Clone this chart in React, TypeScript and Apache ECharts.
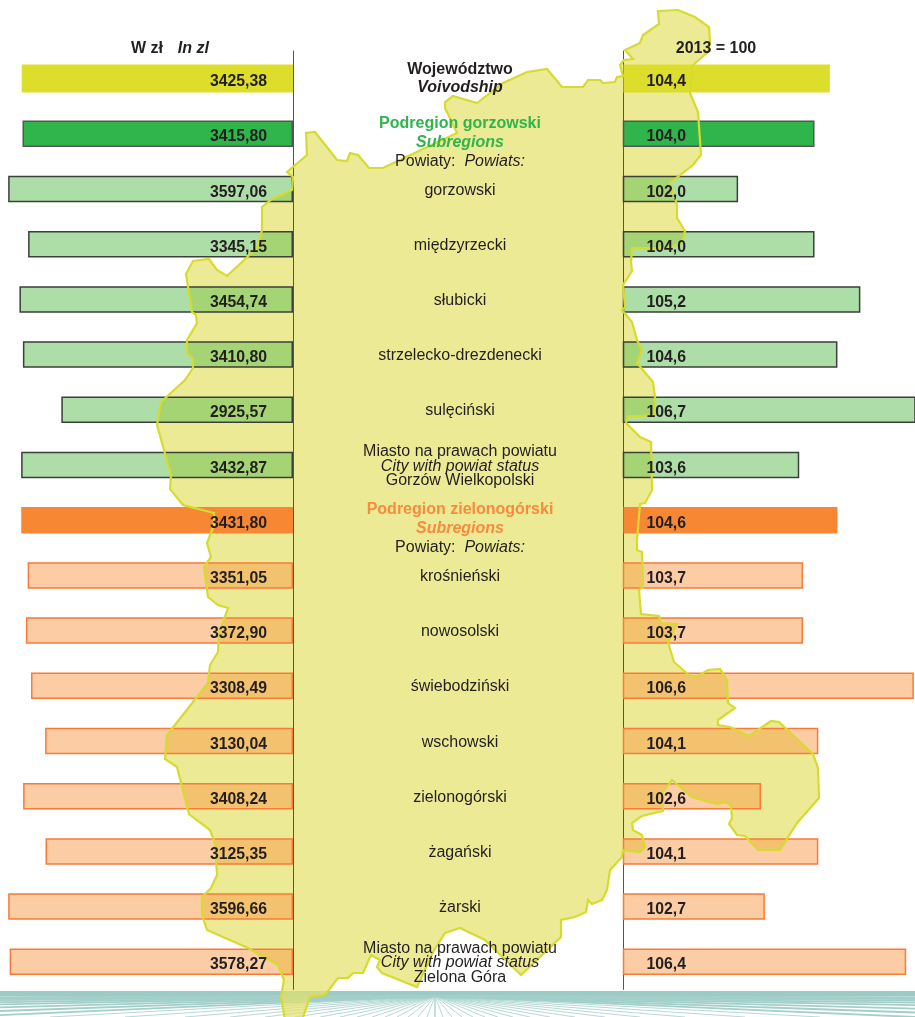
import React, { useEffect, useRef } from "react";
import * as echarts from "echarts";

const FONT = '"Liberation Sans", Arial, sans-serif';

const categories = [
  "{b|Województwo}\n{bi|Voivodship}\n{sx| }",
  "{sp| }\n{gh|Podregion gorzowski}\n{gi|Subregions}\n{h|Powiaty:  }{hi|Powiats:}",
  "{n|gorzowski}",
  "{n|międzyrzecki}",
  "{n|słubicki}",
  "{n|strzelecko-drezdenecki}",
  "{n|sulęciński}",
  "{n|Miasto na prawach powiatu}\n{i|City with powiat status}\n{n|Gorzów Wielkopolski}",
  "{sp| }\n{oh|Podregion zielonogórski}\n{oi|Subregions}\n{h|Powiaty:  }{hi|Powiats:}",
  "{n|krośnieński}",
  "{n|nowosolski}",
  "{n|świebodziński}",
  "{n|wschowski}",
  "{n|zielonogórski}",
  "{n|żagański}",
  "{n|żarski}",
  "{n|Miasto na prawach powiatu}\n{i|City with powiat status}\n{n|Zielona Góra}",
];
const wages = [3425.38, 3415.8, 3597.06, 3345.15, 3454.74, 3410.8, 2925.57, 3432.87, 3431.8, 3351.05, 3372.9, 3308.49, 3130.04, 3408.24, 3125.35, 3596.66, 3578.27];
const indices = [104.4, 104.0, 102.0, 104.0, 105.2, 104.6, 106.7, 103.6, 104.6, 103.7, 103.7, 106.6, 104.1, 102.6, 104.1, 102.7, 106.4];
const rowKinds = ["voiv", "greenHead", "green", "green", "green", "green", "green", "green", "orangeHead", "orange", "orange", "orange", "orange", "orange", "orange", "orange", "orange"];

const kindStyles: Record<string, any> = {
  voiv: { color: "#DDDD2B", borderWidth: 0 },
  greenHead: { color: "#30B44C", borderColor: "#555555", borderWidth: 1.5 },
  green: { color: "rgba(91,189,81,0.5)", borderColor: "#3C3F3C", borderWidth: 1.5 },
  orangeHead: { color: "#F78733", borderWidth: 0 },
  orange: { color: "rgba(249,153,73,0.5)", borderColor: "#F97B38", borderWidth: 1.5 },
};

const mapOutline: number[][] = [
  [658,11],[678,10],[695,17],[709,27],[710,42],[708,52],[693,65],[690,93],[698,112],[701,155],[693,165],[670,183],[677,205],[677,218],[685,231],[682,243],[667,248],[632,248],[631,262],[632,271],[623,285],[625,307],[622,310],[632,322],[637,340],[642,350],[637,363],[653,382],[655,397],[655,415],[640,416],[628,416],[626,423],[640,437],[651,442],[652,490],[645,503],[640,504],[637,540],[637,550],[642,552],[643,587],[639,590],[641,614],[659,616],[661,623],[677,624],[668,642],[674,662],[690,676],[698,676],[708,670],[720,669],[727,680],[728,703],[735,708],[718,720],[718,725],[730,727],[749,736],[771,721],[779,722],[813,754],[818,768],[819,798],[797,823],[780,850],[758,850],[745,836],[737,835],[729,824],[732,818],[731,805],[725,802],[717,804],[692,797],[672,780],[662,793],[663,811],[642,816],[632,823],[633,830],[642,835],[645,847],[640,852],[623,850],[622,857],[610,870],[607,890],[602,900],[592,904],[588,900],[586,912],[575,917],[561,920],[561,937],[521,975],[485,940],[460,928],[445,933],[433,952],[417,987],[382,973],[377,967],[380,960],[371,955],[363,973],[353,973],[348,978],[338,978],[325,995],[310,997],[302,1020],[285,1020],[281,997],[284,980],[278,965],[248,948],[207,930],[202,915],[202,897],[211,888],[217,875],[215,843],[210,830],[189,814],[177,767],[165,759],[167,735],[208,683],[210,665],[218,652],[219,633],[228,608],[218,605],[208,597],[204,567],[211,557],[207,543],[214,525],[214,513],[183,505],[170,489],[171,475],[157,425],[161,402],[185,380],[193,368],[193,359],[187,353],[187,340],[197,323],[196,315],[192,312],[186,274],[193,261],[209,259],[217,270],[227,276],[257,248],[262,230],[262,207],[272,199],[292,190],[293,177],[287,172],[307,155],[306,133],[315,132],[337,160],[347,161],[350,153],[358,155],[369,168],[383,168],[457,133],[445,108],[445,102],[453,96],[460,98],[477,103],[503,83],[527,72],[547,69],[562,87],[583,87],[588,80],[600,80],[603,83],[615,82],[617,77],[623,76],[620,65],[624,60],[633,59],[625,50],[640,43],[643,35],[659,24],
];

const fanSpreads = [0, 8, 17, 27, 38, 50, 63, 78, 95, 115, 140, 170, 205, 250, 310, 385, 480, 610, 800, 1100, 1500, 2200, 3300, 5000, 8000];

const FAN_X = 435, FAN_Y = 996, FAN_END = 1017;

function fanElements() {
  const out: any[] = [
    { type: "rect", shape: { x: 0, y: 991, width: 915, height: 5 }, style: { fill: "#9BCBC5" }, z: 0, silent: true },
  ];
  fanSpreads.forEach((d) => {
    [-d, d].forEach((s) => {
      out.push({
        type: "line",
        shape: { x1: FAN_X, y1: FAN_Y, x2: FAN_X + s, y2: FAN_END },
        style: { stroke: "#A3CFCA", lineWidth: Math.abs(s) > 450 ? 1.8 : 0.8 },
        z: 0,
        silent: true,
      });
    });
  });
  return out;
}

const textBase = { fontFamily: FONT, color: "#231F20", fontSize: 16, align: "center" as const };
const richStyles = {
  n: { ...textBase, lineHeight: 14.5 },
  i: { ...textBase, fontStyle: "italic" as const, lineHeight: 14.5 },
  h: { ...textBase, lineHeight: 19 },
  hi: { ...textBase, fontStyle: "italic" as const, lineHeight: 19 },
  b: { ...textBase, fontWeight: "bold" as const, lineHeight: 18 },
  bi: { ...textBase, fontWeight: "bold" as const, fontStyle: "italic" as const, lineHeight: 18 },
  gh: { ...textBase, color: "#30B44C", fontWeight: "bold" as const, lineHeight: 19 },
  gi: { ...textBase, color: "#30B44C", fontWeight: "bold" as const, fontStyle: "italic" as const, lineHeight: 19 },
  oh: { ...textBase, color: "#F78B3E", fontWeight: "bold" as const, lineHeight: 19 },
  oi: { ...textBase, color: "#F78B3E", fontWeight: "bold" as const, fontStyle: "italic" as const, lineHeight: 19 },
  sp: { ...textBase, fontSize: 4, lineHeight: 15 },
  sx: { ...textBase, fontSize: 2, lineHeight: 2 },
};

const plainCats = categories.map((_, i) => String(i));

export default function App() {
  const ref = useRef<HTMLDivElement>(null);
  useEffect(() => {
    const chart = echarts.init(ref.current!, undefined, { renderer: "svg" });
    const valueLabel = { fontFamily: FONT, fontWeight: "bold" as const, fontSize: 15.8, color: "#231F20" };
    const commonBar = { type: "bar" as const, barWidth: 26.5, silent: true };
    const hiddenCat = {
      type: "category", data: plainCats, inverse: true, show: false,
    };
    const byKind = (values: number[], pick: (k: string) => boolean) =>
      values.map((v, i) => (pick(rowKinds[i]) ? { value: v, itemStyle: kindStyles[rowKinds[i]] } : "-"));
    chart.setOption({
      animation: false,
      grid: [
        { left: 0, width: 293, top: 51, height: 938.4 },
        { left: 623.5, width: 291.5, top: 51, height: 938.4 },
      ],
      xAxis: [
        { gridIndex: 0, type: "value", inverse: true, min: 0, max: 3700, show: false },
        { gridIndex: 1, type: "value", min: 99, max: 106.63, show: false },
      ],
      yAxis: [
        {
          gridIndex: 0, type: "category", data: plainCats, inverse: true, position: "right", z: 2,
          axisLine: { onZero: false, lineStyle: { color: "#555555", width: 1 } },
          axisTick: { show: false }, axisLabel: { show: false }, splitLine: { show: false },
        },
        {
          gridIndex: 1, type: "category", data: plainCats, inverse: true, position: "left", z: 2,
          axisLine: { onZero: false, lineStyle: { color: "#555555", width: 1 } },
          axisTick: { show: false }, axisLabel: { show: false }, splitLine: { show: false },
        },
        {
          gridIndex: 1, type: "category", data: categories, inverse: true, position: "left", z: 6,
          axisLine: { show: false }, axisTick: { show: false }, splitLine: { show: false },
          axisLabel: {
            show: true, interval: 0, margin: 163.5, align: "center", verticalAlign: "middle",
            formatter: (v: string) => v, rich: richStyles, ...textBase,
          },
        },
        { gridIndex: 0, ...hiddenCat },
        { gridIndex: 1, ...hiddenCat },
      ],
      series: [
        {
          ...commonBar, xAxisIndex: 0, yAxisIndex: 0, z: 3,
          data: byKind(wages, (k) => k !== "voiv"),
        },
        {
          ...commonBar, xAxisIndex: 1, yAxisIndex: 1, z: 3,
          data: byKind(indices, (k) => k !== "voiv"),
        },
        {
          ...commonBar, barWidth: 28, xAxisIndex: 0, yAxisIndex: 3, z: 3,
          data: byKind(wages, (k) => k === "voiv"),
        },
        {
          ...commonBar, barWidth: 28, xAxisIndex: 1, yAxisIndex: 4, z: 3,
          data: byKind(indices, (k) => k === "voiv"),
        },
        {
          ...commonBar, xAxisIndex: 0, yAxisIndex: 0, z: 5, barGap: "-100%",
          itemStyle: { color: "transparent" }, data: wages,
          label: {
            show: true, position: "insideRight", distance: 26, offset: [0, 2], ...valueLabel,
            formatter: (p: any) => p.value.toFixed(2).replace(".", ","),
          },
        },
        {
          ...commonBar, xAxisIndex: 1, yAxisIndex: 2, z: 5, barGap: "-100%",
          itemStyle: { color: "transparent" }, data: indices.map((v) => Math.min(v, 106.6)),
          label: {
            show: true, position: "insideLeft", distance: 23, offset: [0, 2], ...valueLabel,
            formatter: (p: any) => indices[p.dataIndex].toFixed(1).replace(".", ","),
          },
        },
      ],
      graphic: {
        elements: [
          ...fanElements(),
          { type: "polygon", shape: { points: mapOutline }, style: { fill: "rgba(229,225,104,0.7)" }, z: 1, silent: true },
          { type: "polygon", shape: { points: mapOutline }, style: { fill: "none", stroke: "#D6DB30", lineWidth: 2.2 }, z: 4, silent: true },
          {
            type: "text", x: 131, y: 47, z: 6, silent: true,
            style: {
              text: "{a|W zł}    {c|In zl}", verticalAlign: "middle", align: "left",
              rich: {
                a: { fontFamily: FONT, fontSize: 16, fontWeight: "bold", fill: "#231F20" },
                c: { fontFamily: FONT, fontSize: 16, fontWeight: "bold", fontStyle: "italic", fill: "#231F20", padding: [0, 0, 0, 1.5] },
              },
            },
          },
          {
            type: "text", x: 716, y: 47, z: 6, silent: true,
            style: { text: "2013 = 100", fontFamily: FONT, fontSize: 16, fontWeight: "bold", fill: "#231F20", align: "center", verticalAlign: "middle" },
          },
        ],
      },
    });
    return () => chart.dispose();
  }, []);
  return <div ref={ref} style={{ position: "fixed", left: 0, top: 0, width: 915, height: 1017 }} />;
}
